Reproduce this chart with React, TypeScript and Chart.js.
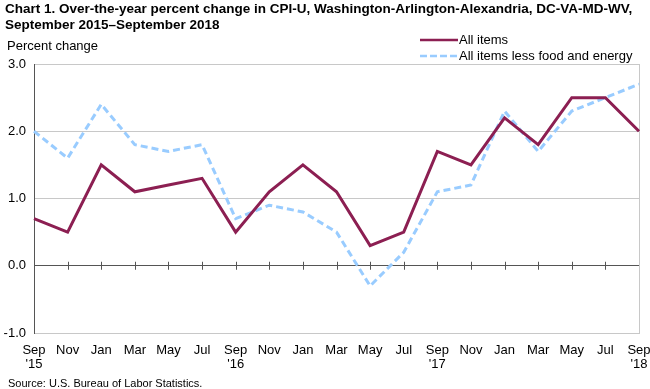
import React, { useEffect, useRef } from 'react';
import { Chart, registerables } from 'chart.js';

Chart.register(...registerables);

const categories: string[][] = [
  ['Sep', "'15"], ['Nov'], ['Jan'], ['Mar'], ['May'], ['Jul'],
  ['Sep', "'16"], ['Nov'], ['Jan'], ['Mar'], ['May'], ['Jul'],
  ['Sep', "'17"], ['Nov'], ['Jan'], ['Mar'], ['May'], ['Jul'],
  ['Sep', "'18"],
];
const allItems = [0.7, 0.5, 1.5, 1.1, 1.2, 1.3, 0.5, 1.1, 1.5, 1.1, 0.3, 0.5, 1.7, 1.5, 2.2, 1.8, 2.5, 2.5, 2.0];
const lessFoodEnergy = [2.0, 1.6, 2.4, 1.8, 1.7, 1.8, 0.7, 0.9, 0.8, 0.5, -0.3, 0.2, 1.1, 1.2, 2.3, 1.7, 2.3, 2.5, 2.7];
const yTicks = [-1, 0, 1, 2, 3];

const seriesNames = ['All items', 'All items less food and energy'];
const titleLines = [
  'Chart 1. Over-the-year percent change in CPI-U, Washington-Arlington-Alexandria, DC-VA-MD-WV,',
  'September 2015\u2013September 2018',
];
const yTitle = 'Percent change';
const sourceText = 'Source: U.S. Bureau of Labor Statistics.';

const MAROON = '#8c1f52';
const BLUE = '#99ccff';
const FONT = '"Liberation Sans", Arial, sans-serif';

const zeroTicks = {
  id: 'zeroTicks',
  beforeDatasetsDraw(chart: any) {
    const { ctx, scales } = chart;
    const x = scales.x;
    const y = scales.y;
    const y0 = y.getPixelForValue(0);
    ctx.save();
    ctx.strokeStyle = '#555555';
    ctx.lineWidth = 1;
    for (let i = 1; i < categories.length - 1; i++) {
      const px = Math.round(x.getPixelForValue(i)) + 0.5;
      ctx.beginPath();
      ctx.moveTo(px, y0 - 4);
      ctx.lineTo(px, y0 + 4);
      ctx.stroke();
    }
    ctx.restore();
  },
};

export default function App() {
  const ref = useRef<HTMLCanvasElement | null>(null);

  useEffect(() => {
    if (!ref.current) return;
    const chart = new Chart(ref.current, {
      type: 'line',
      data: {
        labels: categories,
        datasets: [
          {
            label: seriesNames[0],
            data: allItems,
            borderColor: MAROON,
            borderWidth: 3,
            pointRadius: 0,
            tension: 0,
            fill: false,
          },
          {
            label: seriesNames[1],
            data: lessFoodEnergy,
            borderColor: BLUE,
            borderWidth: 3,
            borderDash: [7, 4],
            pointRadius: 0,
            tension: 0,
            fill: false,
          },
        ],
      },
      options: {
        animation: false,
        responsive: false,
        events: [],
        layout: { padding: { top: 64, right: 11, bottom: 16, left: 0 } },
        plugins: {
          legend: { display: false },
          tooltip: { enabled: false },
        },
        scales: {
          x: {
            type: 'category',
            offset: false,
            grid: {
              drawTicks: false,
              color: (c: any) => (c.index === categories.length - 1 ? '#c8c8c8' : 'rgba(0,0,0,0)'),
              lineWidth: 1,
            },
            border: { display: true, color: '#c8c8c8', width: 1 },
            ticks: {
              autoSkip: false,
              maxRotation: 0,
              minRotation: 0,
              padding: 10,
              color: '#000',
              font: { family: FONT, size: 13, lineHeight: 1.1 },
            },
            afterFit: (s: any) => {
              s.height = 40;
              s.paddingLeft = 0;
              s.paddingRight = 0;
            },
          },
          y: {
            min: -1,
            max: 3,
            afterBuildTicks: (s: any) => { s.ticks = yTicks.map((v) => ({ value: v })); },
            grid: {
              drawTicks: false,
              color: (c: any) => (c.tick && c.tick.value === 0 ? '#555555' : '#c8c8c8'),
              lineWidth: 1,
            },
            border: { display: true, color: '#555555', width: 1 },
            ticks: {
              padding: 8,
              color: '#000',
              font: { family: FONT, size: 13 },
              callback: (v: any) => Number(v).toFixed(1),
            },
            afterFit: (s: any) => {
              s.width = 34;
              s.paddingTop = 0;
              s.paddingBottom = 0;
            },
          },
        },
      },
      plugins: [zeroTicks],
    });
    return () => chart.destroy();
  }, []);

  return (
    <div style={{ position: 'absolute', left: 0, top: 0, width: 650, height: 389, fontFamily: FONT, color: '#000', background: '#fff', overflow: 'hidden' }}>
      <canvas ref={ref} width={650} height={389} style={{ position: 'absolute', left: 0, top: 0, width: 650, height: 389 }} />
      <div style={{ position: 'absolute', left: 5, top: 1, fontWeight: 'bold', fontSize: 13.5, lineHeight: '16px', whiteSpace: 'nowrap' }}>
        <div>{titleLines[0]}</div>
        <div>{titleLines[1]}</div>
      </div>
      <div style={{ position: 'absolute', left: 7, top: 38, fontSize: 13, lineHeight: '16px' }}>{yTitle}</div>
      <div style={{ position: 'absolute', left: 420, top: 32, fontSize: 13, lineHeight: '16px' }}>
        <div style={{ display: 'flex', alignItems: 'center', height: 16 }}>
          <svg width={38} height={6} style={{ display: 'block' }}>
            <line x1={0} y1={3} x2={38} y2={3} stroke={MAROON} strokeWidth={2.5} />
          </svg>
          <span style={{ marginLeft: 1 }}>{seriesNames[0]}</span>
        </div>
        <div style={{ display: 'flex', alignItems: 'center', height: 16 }}>
          <svg width={38} height={6} style={{ display: 'block' }}>
            <line x1={0} y1={3} x2={38} y2={3} stroke={BLUE} strokeWidth={2.5} strokeDasharray="7 3" />
          </svg>
          <span style={{ marginLeft: 1 }}>{seriesNames[1]}</span>
        </div>
      </div>
      <div style={{ position: 'absolute', left: 8, top: 377, fontSize: 11, lineHeight: '13px' }}>{sourceText}</div>
    </div>
  );
}
